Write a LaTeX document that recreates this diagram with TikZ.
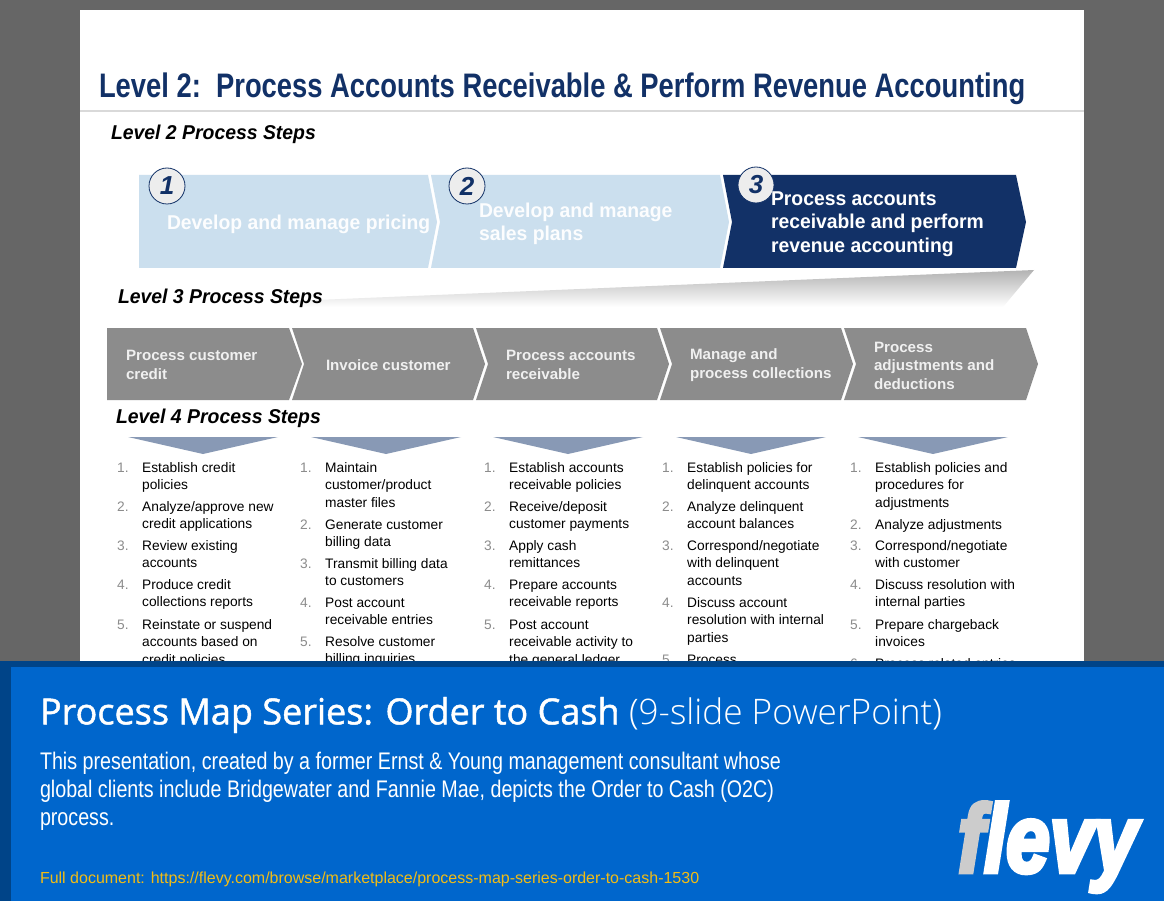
\documentclass[tikz,border=0pt]{standalone}
\usepackage{fontspec}
\setmainfont{Liberation Sans}
\newfontfamily\bannerfont[FakeBold=1.3]{Open Sans}
\newfontfamily\bannerlight{Open Sans Light}
\newfontfamily\logofont[FakeBold=5]{Liberation Sans}
\definecolor{navy}{HTML}{123167}
\definecolor{paleblue}{HTML}{CBDFEE}
\definecolor{midgray}{HTML}{8C8C8C}
\definecolor{wedgeblue}{HTML}{8899B5}
\definecolor{bannerblue}{HTML}{0066CC}
\definecolor{bannerdark}{HTML}{004488}
\definecolor{linkgold}{HTML}{F2BC14}
\tikzset{
  txt/.style={inner sep=0pt,outer sep=0pt,anchor=west,align=left},
  levelhead/.style={txt,font=\fontsize{20}{24}\selectfont\bfseries\itshape,xscale=.97,transform shape},
  ltwo/.style={txt,font=\fontsize{20}{23.5}\selectfont\bfseries,xscale=.967,transform shape},
  lthree/.style={txt,text=white!94!black,font=\fontsize{15}{18.5}\selectfont\bfseries,xscale=1.01,transform shape},
  stepnum/.style={circle,draw=navy,thick,fill=white!93!black,text=navy,minimum size=36pt,inner sep=0pt,
    font=\fontsize{26}{26}\selectfont\bfseries\itshape},
  itemnum/.style={inner sep=0pt,anchor=base west,text=black!45,font=\fontsize{13.75}{17.5}\selectfont},
  itemtxt/.style={inner sep=0pt,anchor=north west,align=left,font=\fontsize{13.75}{17.5}\selectfont}
}
% one numbered list entry: name, number x, baseline y, number, text
\newcommand{\listentry}[5]{%
  \node[itemnum] (#1n) at (#2,#3) {#4.};
  \node[itemtxt] (#1t) at (#2+25,#3-12.25) {\strut #5};
}
\begin{document}
\begin{tikzpicture}[x=1pt,y=-1pt]
\useasboundingbox (0,0) rectangle (1164,901);
% Backdrop and slide
\fill[black!60] (0,0) rectangle (1164,901);
\fill[white] (80,10) rectangle (1084,670);
\draw[black!15,line width=1.5pt] (80,111) -- (1084,111);
% Title
\node[txt,text=navy,font=\fontsize{34}{40}\selectfont\bfseries,xscale=.805,transform shape] (title) at (99,89)
  {Level 2:\ \ Process Accounts Receivable \& Perform Revenue Accounting};
\node[levelhead] (headtwo) at (111,134) {Level 2 Process Steps};
% Level 2 chevrons
\fill[paleblue] (139,175) -- (428,175) -- (437,222) -- (428,268) -- (139,268) -- cycle;
\fill[paleblue] (431,175) -- (720,175) -- (729,222) -- (720,268) -- (431,268) -- (440,222) -- cycle;
\fill[navy] (723,175) -- (1016,175) -- (1026,222) -- (1016,268) -- (723,268) -- (732,222) -- cycle;
\node[stepnum] (numone) at (167,186) {1};
\node[stepnum] (numtwo) at (467,186) {2};
\node[stepnum] (numthree) at (756,185) {3};
\node[ltwo,text=white!95!paleblue] (stepone) at (167,224) {Develop and manage pricing};
\node[ltwo,text=white!95!paleblue] (steptwo) at (479,224) {Develop and manage\\sales plans};
\node[ltwo,text=white] (stepthree) at (771,224) {Process accounts\\receivable and perform\\revenue accounting};
% Funnel between the levels
\shade[top color=black!30,bottom color=white] (293,301) -- (1034,270) -- (1003,307) -- (300,307) -- cycle;
\node[levelhead] (headthree) at (118,298) {Level 3 Process Steps};
% Level 3 chevrons
\fill[midgray] (107,328) -- (289,328) -- (302,364) -- (289,400) -- (107,400) -- cycle;
\foreach \xa/\xb in {292/473,476/657,660/841,844/1026}
  \fill[midgray] (\xa,328) -- (\xb,328) -- (\xb+12,364) -- (\xb,400) -- (\xa,400) -- (\xa+12,364) -- cycle;
\node[lthree] (subone) at (126,365) {Process customer\\credit};
\node[lthree] (subtwo) at (326,365) {Invoice customer};
\node[lthree] (subthree) at (506,365) {Process accounts\\receivable};
\node[lthree] (subfour) at (690,365) {Manage and\\process collections};
\node[lthree] (subfive) at (874,365.5) {Process\\adjustments and\\deductions};
\node[levelhead] (headfour) at (116,418) {Level 4 Process Steps};
% Pointers above the lists
\foreach \xa in {128,311,493,676,858}
  \fill[wedgeblue] (\xa,437) -- (\xa+150,437) -- (\xa+75,454) -- cycle;
% Level 4 lists
\listentry{a1}{117}{472}{1}{Establish credit\\policies}
\listentry{a2}{117}{511}{2}{Analyze/approve new\\credit applications}
\listentry{a3}{117}{550}{3}{Review existing\\accounts}
\listentry{a4}{117}{589}{4}{Produce credit\\collections reports}
\listentry{a5}{117}{629}{5}{Reinstate or suspend\\accounts based on\\credit policies}
\listentry{b1}{300}{472}{1}{Maintain\\customer/product\\master files}
\listentry{b2}{300}{529}{2}{Generate customer\\billing data}
\listentry{b3}{300}{568}{3}{Transmit billing data\\to customers}
\listentry{b4}{300}{607}{4}{Post account\\receivable entries}
\listentry{b5}{300}{646}{5}{Resolve customer\\billing inquiries}
\listentry{c1}{484}{472}{1}{Establish accounts\\receivable policies}
\listentry{c2}{484}{511}{2}{Receive/deposit\\customer payments}
\listentry{c3}{484}{550}{3}{Apply cash\\remittances}
\listentry{c4}{484}{589}{4}{Prepare accounts\\receivable reports}
\listentry{c5}{484}{629}{5}{Post account\\receivable activity to\\the general ledger}
\listentry{d1}{662}{472}{1}{Establish policies for\\delinquent accounts}
\listentry{d2}{662}{511}{2}{Analyze delinquent\\account balances}
\listentry{d3}{662}{550}{3}{Correspond/negotiate\\with delinquent\\accounts}
\listentry{d4}{662}{607}{4}{Discuss account\\resolution with internal\\parties}
\listentry{d5}{662}{664}{5}{Process}
\listentry{e1}{850}{472}{1}{Establish policies and\\procedures for\\adjustments}
\listentry{e2}{850}{529}{2}{Analyze adjustments}
\listentry{e3}{850}{550}{3}{Correspond/negotiate\\with customer}
\listentry{e4}{850}{589}{4}{Discuss resolution with\\internal parties}
\listentry{e5}{850}{629}{5}{Prepare chargeback\\invoices}
\listentry{e6}{850}{668}{6}{Process related entries}
% Banner
\fill[bannerdark] (0,661) rectangle (1164,901);
\fill[bannerblue] (11,667) rectangle (1164,901);
\node[txt,text=white,font=\bannerfont\fontsize{36}{40}\selectfont] (bannerhead) at (40,715) {Process Map Series: Order to Cash};
\node[txt,text=white,font=\bannerlight\fontsize{35.2}{40}\selectfont] (bannernote) at (629,714) {(9-slide PowerPoint)};
\node[txt,text=white,font=\fontsize{24}{28}\selectfont,xscale=.82,transform shape] (bannerbody) at (40,791)
  {This presentation, created by a former Ernst \& Young management consultant whose\\global clients include Bridgewater and Fannie Mae, depicts the Order to Cash (O2C)\\process.};
\node[txt,text=linkgold,font=\fontsize{16}{20}\selectfont] (bannerlink) at (40,879)
  {Full document: https://flevy.com/browse/marketplace/process-map-series-order-to-cash-1530};
% Logo
\node[txt,anchor=base west,text=white,font=\logofont\fontsize{96}{96}\selectfont\bfseries\itshape,xscale=.82,transform shape] (logo) at (958,872)
  {\textcolor{black!20}{f}levy};
\end{tikzpicture}
\end{document}
